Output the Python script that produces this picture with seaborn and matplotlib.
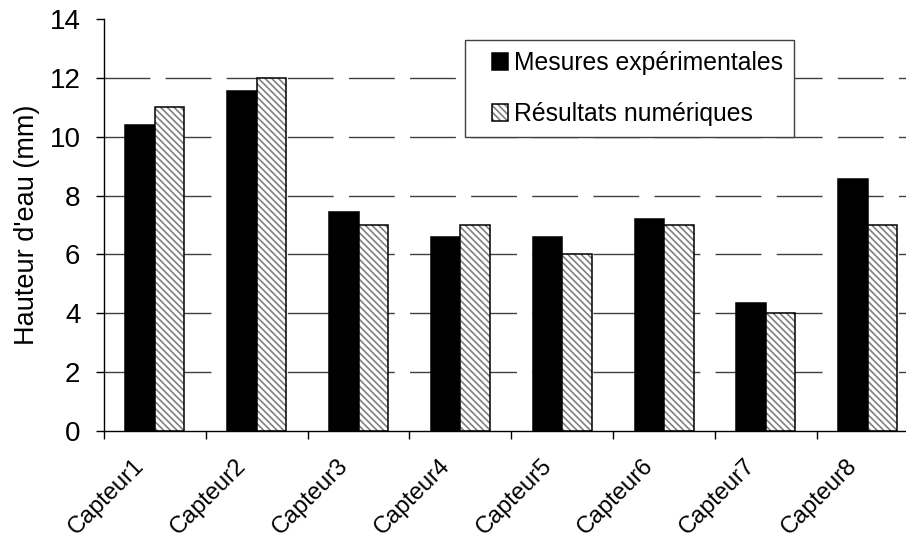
import numpy as np
import pandas as pd
import matplotlib
matplotlib.use("Agg")
import matplotlib.pyplot as plt
import seaborn as sns
from matplotlib.colors import to_rgba
from matplotlib.patches import Rectangle
from matplotlib.legend_handler import HandlerPatch
from matplotlib.transforms import ScaledTranslation

# ---- data ----
capteurs = ["Capteur1", "Capteur2", "Capteur3", "Capteur4",
            "Capteur5", "Capteur6", "Capteur7", "Capteur8"]
mesures = [10.4, 11.55, 7.45, 6.6, 6.6, 7.2, 4.35, 8.55]
numeriques = [11.0, 12.0, 7.0, 7.0, 6.0, 7.0, 4.0, 7.0]
series = ["Mesures expérimentales", "Résultats numériques"]
y_ticks = [0, 2, 4, 6, 8, 10, 12, 14]

sns.set_theme(style="white")
plt.rcParams["font.family"] = ["Liberation Sans", "DejaVu Sans"]
plt.rcParams["hatch.linewidth"] = 1.2

df = pd.DataFrame({
    "capteur": capteurs * 2,
    "hauteur": mesures + numeriques,
    "serie": [series[0]] * len(capteurs) + [series[1]] * len(capteurs),
})

fig = plt.figure(figsize=(9.06, 5.39), dpi=100)
fig.patch.set_facecolor("white")
ax = fig.add_axes([104 / 906, 108 / 539, 814.6 / 906, 412 / 539])
ax.set_facecolor("white")

sns.barplot(data=df, x="capteur", y="hauteur", hue="serie", hue_order=series,
            palette=["black", "white"], saturation=1, width=0.58,
            edgecolor="black", linewidth=1.1, errorbar=None, legend=False,
            ax=ax)

hatch_gray = to_rgba("#808080")
for p in ax.containers[1]:
    p.set_hatch("\\\\\\\\\\")
    p._hatch_color = hatch_gray
for c in ax.containers:
    for p in c:
        p.set_zorder(2)

ax.set_ylim(0, 14)
ax.set_xlim(-0.5, len(capteurs) - 0.5)
ax.set_yticks(y_ticks)
for v in y_ticks[1:-1]:
    ax.axhline(v, color="#404040", lw=1, ls=(0, (33, 11)), zorder=0.5)

sns.despine(ax=ax)
for s in ("left", "bottom"):
    ax.spines[s].set_color("black")
    ax.spines[s].set_linewidth(1)

ax.tick_params(axis="y", left=True, direction="out", length=6, width=1,
               color="black", labelsize=20, pad=11, labelcolor="black")
ax.set_xticks(range(len(capteurs)))
ax.set_xticks(np.arange(-0.5, len(capteurs), 1), minor=True)
ax.tick_params(axis="x", which="minor", bottom=True, direction="out",
               length=5.4, width=1, color="black")
ax.tick_params(axis="x", which="major", bottom=True, length=0, pad=23,
               labelsize=17, labelcolor="black")
ax.set_xticklabels(capteurs, rotation=45, ha="right", va="center",
                   rotation_mode="anchor")
off = ScaledTranslation(-14 / 100, 0, fig.dpi_scale_trans)
for lab in ax.get_xticklabels():
    lab.set_transform(lab.get_transform() + off)

ax.set_xlabel("")
ax.set_ylabel("Hauteur d'eau (mm)", fontsize=19.5, labelpad=7, color="black")


def square_patch(legend, orig_handle, xdescent, ydescent, width, height,
                 fontsize):
    side = height
    return Rectangle((width - side - xdescent, -ydescent), side, side)


leg = ax.legend(handles=ax.containers, labels=series, loc="upper left",
                bbox_to_anchor=(0.443, 0.949), borderaxespad=0,
                frameon=True, fancybox=False, edgecolor="#404040",
                framealpha=1, fontsize=17.8, handlelength=1.3,
                handleheight=0.65, handletextpad=0.25, labelspacing=1.1,
                borderpad=0.45,
                handler_map={type(ax.containers[0]):
                             HandlerPatch(patch_func=square_patch,
                                          update_func=lambda h, o: h.update_from(o.patches[0]))})
leg.get_frame().set_linewidth(1)
for t in leg.get_texts():
    t.set_color("black")

fig.savefig("out.png", dpi=100)
